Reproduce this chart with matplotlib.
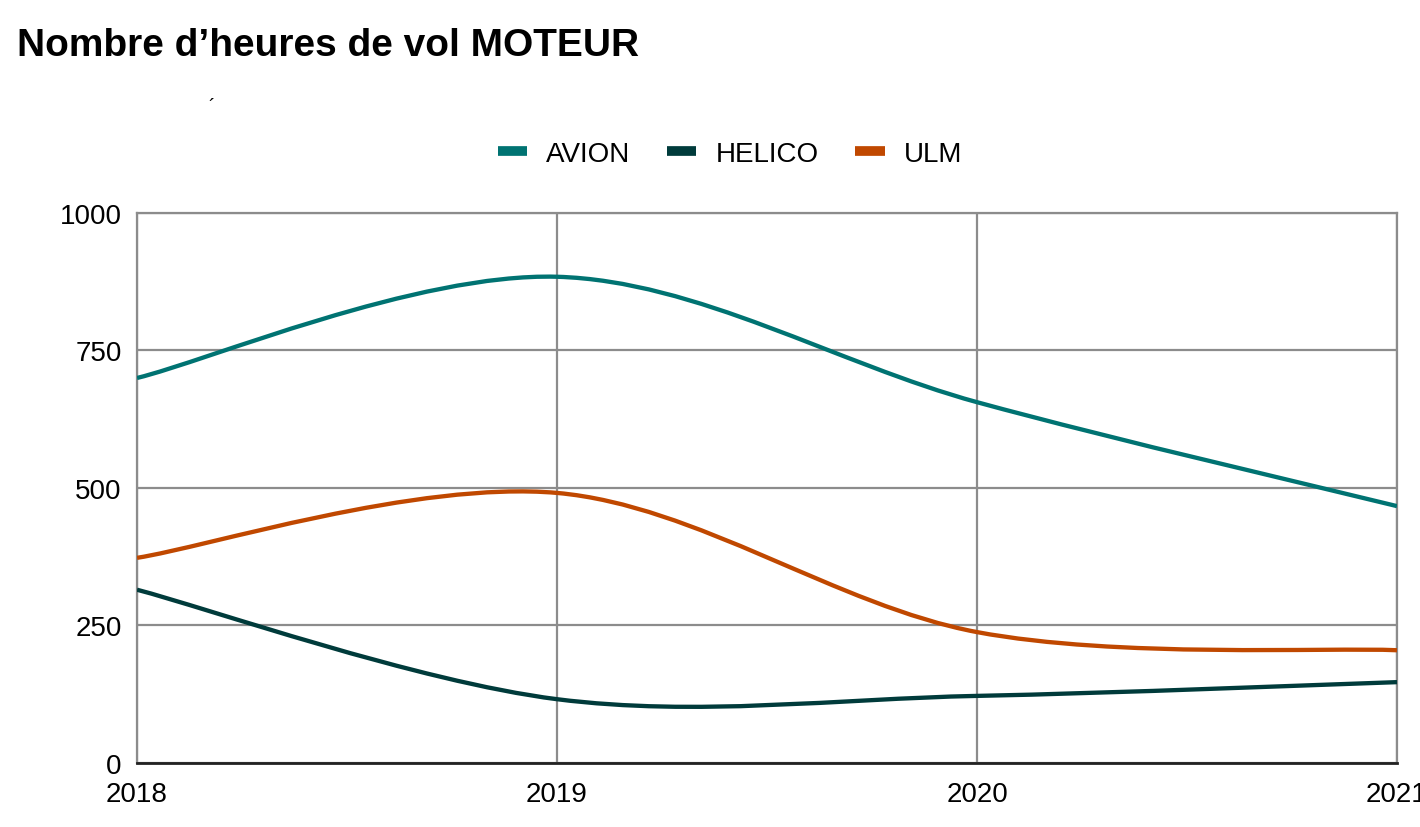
import matplotlib
matplotlib.use("Agg")
import matplotlib.pyplot as plt
from matplotlib.path import Path
from matplotlib.patches import PathPatch
from matplotlib.lines import Line2D

plt.rcParams['font.family'] = ['Liberation Sans', 'DejaVu Sans']

# data
years = [2018, 2019, 2020, 2021]
avion = [700, 884, 656, 467]
helico = [315, 116, 122, 147]
ulm = [373, 491, 238, 205]

series = [("AVION", avion, "#007372"),
          ("HELICO", helico, "#003b3b"),
          ("ULM", ulm, "#c04800")]


def smooth_path(xs, ys):
    # catmull-rom style curve, drawn as cubic bezier segments
    n = len(xs)
    verts = [(xs[0], ys[0])]
    codes = [Path.MOVETO]
    for i in range(n - 1):
        x0, y0 = xs[max(i - 1, 0)], ys[max(i - 1, 0)]
        x1, y1 = xs[i], ys[i]
        x2, y2 = xs[i + 1], ys[i + 1]
        x3, y3 = xs[min(i + 2, n - 1)], ys[min(i + 2, n - 1)]
        c1 = (x1 + (x2 - x0) / 6, y1 + (y2 - y0) / 6)
        c2 = (x2 - (x3 - x1) / 6, y2 - (y3 - y1) / 6)
        verts += [c1, c2, (x2, y2)]
        codes += [Path.CURVE4] * 3
    return Path(verts, codes)


fig = plt.figure(figsize=(14.2, 8.28), dpi=100)
ax = fig.add_axes([0.0965, 0.0773, 0.8873, 0.6643])

handles = []
for name, vals, col in series:
    patch = PathPatch(smooth_path(years, vals), fill=False, edgecolor=col,
                      lw=3.1, capstyle='butt', zorder=3)
    ax.add_patch(patch)
    handles.append(Line2D([], [], color=col, lw=7, solid_capstyle='butt', label=name))

ax.set_xlim(2018, 2021)
ax.set_ylim(0, 1000)
ax.set_xticks(years)
ax.set_yticks([0, 250, 500, 750, 1000])
ax.grid(True, color="#8c8c8c", lw=1.6)
ax.set_axisbelow(True)
for s in ['top', 'right', 'left']:
    ax.spines[s].set_color("#8c8c8c")
    ax.spines[s].set_linewidth(1.6)
ax.spines['bottom'].set_color("#222222")
ax.spines['bottom'].set_linewidth(2)
ax.tick_params(length=0, labelsize=20)
ax.tick_params(axis='y', pad=11)
ax.tick_params(axis='x', pad=13)

fig.text(0.012, 0.945, "Nombre d\u2019heures de vol MOTEUR", fontsize=28,
         fontweight='bold', ha='left', va='center')
fig.text(0.149, 0.870, "\u00b4", fontsize=14, ha='center', va='center')

fig.legend(handles=handles, loc='center', bbox_to_anchor=(0.514, 0.813),
           ncol=3, frameon=False, fontsize=20, handlelength=1.05,
           columnspacing=1.33, handletextpad=0.68)

fig.savefig("out.png", dpi=100)
